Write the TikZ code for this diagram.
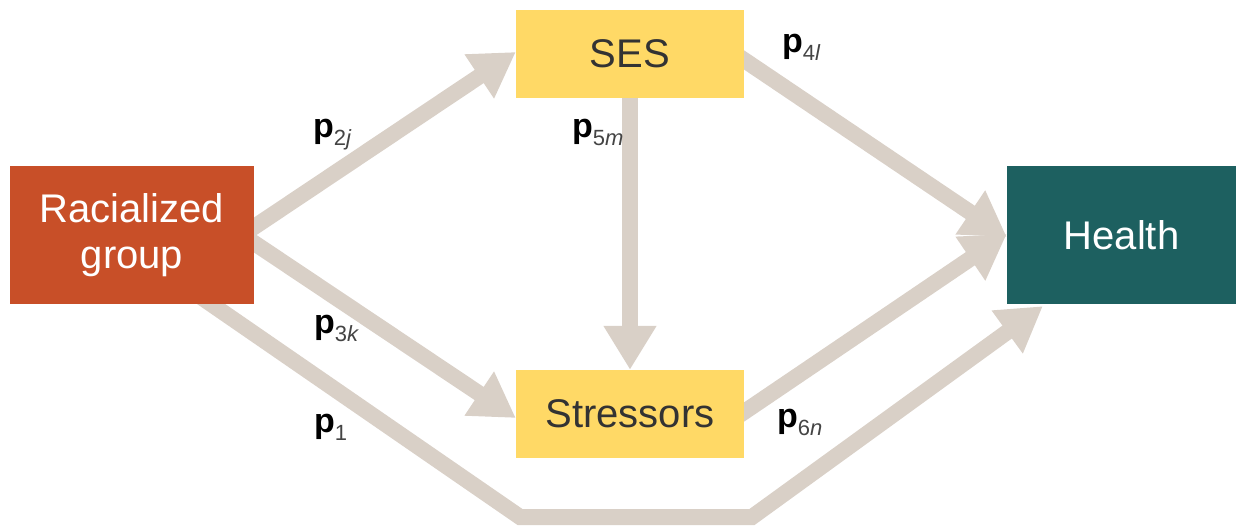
\documentclass[tikz,border=0pt]{standalone}
\usepackage{fontspec}
\setmainfont{Liberation Sans}
\usetikzlibrary{arrows.meta,calc}
\pgfdeclarelayer{background}
\pgfsetlayers{background,main}
\definecolor{arrowc}{HTML}{D9D0C7}
\definecolor{sesc}{HTML}{FFD966}
\definecolor{racc}{HTML}{C84F28}
\definecolor{healthc}{HTML}{1D6060}
\definecolor{darktext}{HTML}{333333}
\definecolor{subtext}{HTML}{444444}
\tikzset{
  box/.style={rectangle, inner sep=0pt, align=center, font=\fontsize{40}{46}\selectfont},
  flow/.style={draw=arrowc, line width=16pt, line join=miter, -{Triangle[width=50pt,length=44pt]}},
  plabel/.style={anchor=base west, inner sep=0pt, text=black}
}
\newcommand{\plab}[2]{\fontsize{34}{40}\selectfont\textbf{p}\raisebox{-8pt}{\fontsize{22}{26}\selectfont\color{subtext}#1\textit{#2}}}
\begin{document}
\begin{tikzpicture}[x=1pt,y=-1pt]
\useasboundingbox (0,0) rectangle (1240,527);
\node[box, fill=racc, text=white, minimum width=244pt, minimum height=138pt] (rac) at (132,235) {Racialized\\group};
\node[box, fill=sesc, text=darktext, minimum width=228pt, minimum height=88pt] (ses) at (630,54) {SES};
\node[box, fill=sesc, text=darktext, minimum width=228pt, minimum height=88pt] (str) at (630,414) {Stressors};
\node[box, fill=healthc, text=white, minimum width=229pt, minimum height=138pt] (health) at (1121.5,235) {Health};
\coordinate (c1) at (520,517);
\coordinate (c2) at (752,517);
\begin{pgfonlayer}{background}
\draw[flow] ([xshift=-12pt]rac.east) -- ([yshift=2pt]ses.west);
\draw[flow] ([xshift=-12pt]rac.east) -- ([yshift=-4pt]str.west);
\draw[flow] ([yshift=5pt]ses.south) -- (str.north);
\draw[flow] ([xshift=-6pt,yshift=-2pt]ses.east) -- ([yshift=-2pt]health.west);
\draw[flow] ([xshift=-6pt,yshift=-2pt]str.east) -- ([yshift=1pt]health.west);
\draw[flow] ([xshift=190pt,yshift=8pt]rac.south west) -- (c1) -- (c2) -- ([xshift=36pt,yshift=-2pt]health.south west);
\end{pgfonlayer}
\node[plabel] (l2) at (313,137) {\plab{2}{j}};
\node[plabel] (l5) at (572,137) {\plab{5}{m}};
\node[plabel] (l4) at (782,53) {\plab{4}{l}};
\node[plabel] (l3) at (314,333) {\plab{3}{k}};
\node[plabel] (l1) at (314,432) {\plab{1}{}};
\node[plabel] (l6) at (777,427) {\plab{6}{n}};
\end{tikzpicture}
\end{document}
